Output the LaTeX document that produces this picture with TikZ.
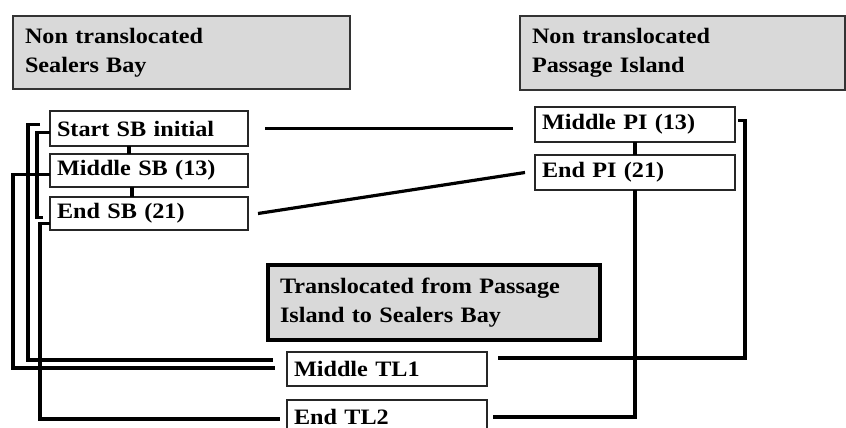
\documentclass[tikz,border=0pt]{standalone}
\usepackage{fontspec}
\setmainfont{Liberation Serif}[FakeStretch=1.1]

\begin{document}
\begin{tikzpicture}[x=1pt,y=-1pt,
    every node/.style={font=\fontsize{22}{29}\selectfont\bfseries,outer sep=0pt},
    head/.style={draw=black!80,line width=1.8pt,fill=black!15,anchor=north west,
        align=left,inner xsep=12pt,text width=#1},
    stage/.style={draw=black!85,line width=1.4pt,fill=white,anchor=north west,
        align=left,inner xsep=7pt,minimum height=34pt,text width=#1},
    link/.style={line width=3.2pt}]
    \useasboundingbox (0,0) rectangle (846,428);
    \clip (0,0) rectangle (846,428);
    % group headers
    \node[head=313pt,minimum height=73pt] (sbhead) at (13,16) {Non translocated\\Sealers Bay};
    \node[head=301pt,minimum height=74pt] (pihead) at (520,16) {Non translocated\\Passage Island};
    \node[head=308pt,minimum height=75pt,draw=black,line width=3.8pt] (tlhead) at (268,265) {Translocated from Passage\\Island to Sealers Bay};
    % sampling stages
    \node[stage=184pt,minimum height=35pt] (startsb) at (50,111) {Start SB initial};
    \node[stage=184pt,minimum height=33pt] (middlesb) at (50,154) {Middle SB (13)};
    \node[stage=184pt,minimum height=33pt] (endsb) at (50,197) {End SB (21)};
    \node[stage=186pt,minimum height=35pt] (middlepi) at (535,107) {Middle PI (13)};
    \node[stage=186pt,minimum height=35pt] (endpi) at (535,155) {End PI (21)};
    \node[stage=186pt] (middletl) at (287,352) {Middle TL1};
    \node[stage=186pt] (endtl) at (287,400) {End TL2};
    % links between sites
    \draw[link] ([xshift=17pt]startsb.east) -- ([xshift=-22pt]startsb.east -| middlepi.west);
    \draw[link] ([xshift=10pt]endsb.east) -- ([xshift=-10pt]endpi.west);
    % links in time
    \draw[link] ([xshift=-20pt]startsb.south) -- ([xshift=-20pt]middlesb.north);
    \draw[link] ([xshift=-17pt]middlesb.south) -- ([xshift=-17pt]endsb.north);
    \draw[link] (middlepi.south) -- (endpi.north);
    % links to translocated
    \draw[link] (endpi.south) |- ([xshift=6pt]endtl.east);
    \draw[link] ([shift={(3,-4)}]middlepi.east) -- ++(7,0) |- ([shift={(11,-11)}]middletl.east);
    \draw[link] ([shift={(-10,-4)}]startsb.west) -- ++(-12,0) |- ([shift={(-14,-9)}]middletl.west);
    \draw[link] ([shift={(0,4)}]startsb.west) -- ++(-13,0) |- ([shift={(-7,4)}]endsb.west);
    \draw[link] ([shift={(0,4)}]middlesb.west) -- ++(-37,0) |- ([shift={(-12,-1)}]middletl.west);
    \draw[link] ([shift={(0,10)}]endsb.west) -- ++(-10,0) |- ([shift={(-7,2)}]endtl.west);
\end{tikzpicture}
\end{document}
